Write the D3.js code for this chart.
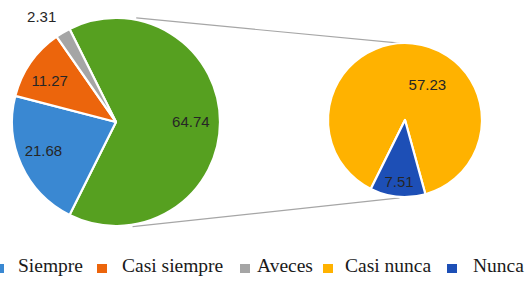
<!DOCTYPE html>
<html>
<head>
<meta charset="utf-8">
<script src="https://cdn.jsdelivr.net/npm/d3@7"></script>
<style>
  html, body { margin: 0; padding: 0; background: #fff; overflow: hidden; }
</style>
</head>
<body>
<svg id="chart" width="528" height="282"></svg>
<script>
const categories = ['Siempre', 'Casi siempre', 'Aveces', 'Casi nunca', 'Nunca'];
const values = [21.68, 11.27, 2.31, 57.23, 7.51];
const colors = ['#3a88d2', '#ec650c', '#a5a5a5', '#ffb200', '#1d4fb6'];
const otherColor = '#56a020';
const splitAt = 3; // the last two go to the second pie

const svg = d3.select('#chart');
const deg = Math.PI / 180;

// main pie
const main = { cx: 116, cy: 122, r: 104 };
const small = { cx: 405, cy: 120, r: 77 };

const otherValue = d3.sum(values.slice(splitAt));
const mainData = [{ name: 'Otros', value: otherValue, color: otherColor }]
    .concat(categories.slice(0, splitAt).map((c, i) => ({ name: c, value: values[i], color: colors[i] })));
const smallData = categories.slice(splitAt).map((c, i) => ({ name: c, value: values[splitAt + i], color: colors[splitAt + i] }));

const total = d3.sum(values);
const mainStart = Math.PI / 2 - Math.PI * otherValue / total; // "other" slice centred on the right
const mainPie = d3.pie().sort(null).value(d => d.value)
    .startAngle(mainStart).endAngle(mainStart + 2 * Math.PI);
const smallStart = -153.6 * deg;
const smallPie = d3.pie().sort(null).value(d => d.value)
    .startAngle(smallStart).endAngle(smallStart + 2 * Math.PI);

const mainArcs = mainPie(mainData);
const smallArcs = smallPie(smallData);

// connector lines
const pt = (p, a, rr) => [p.cx + rr * Math.sin(a), p.cy - rr * Math.cos(a)];
const connectors = [
    [pt(main, 11 * deg, main.r + 2), pt(small, -4 * deg, small.r)],
    [pt(main, 171 * deg, main.r + 2), pt(small, 184 * deg, small.r + 1)]
];
svg.append('g').selectAll('line')
    .data(connectors)
    .enter().append('line')
    .attr('x1', d => d[0][0]).attr('y1', d => d[0][1])
    .attr('x2', d => d[1][0]).attr('y2', d => d[1][1])
    .attr('stroke', '#a6a6a6')
    .attr('stroke-width', 1.2);

function drawPie(p, arcs, labelSpec) {
    const g = svg.append('g').attr('transform', `translate(${p.cx},${p.cy})`);
    const arc = d3.arc().innerRadius(0).outerRadius(p.r);
    g.selectAll('path')
        .data(arcs)
        .enter().append('path')
        .attr('d', arc)
        .attr('fill', d => d.data.color)
        .attr('stroke', '#fff')
        .attr('stroke-width', 2.2)
        .attr('stroke-linejoin', 'round');

    g.selectAll('text')
        .data(arcs)
        .enter().append('text')
        .attr('transform', (d, i) => {
            const s = labelSpec[i];
            const a = (d.startAngle + d.endAngle) / 2 + s.shift * deg;
            const rr = p.r * s.rf;
            return `translate(${rr * Math.sin(a)},${-rr * Math.cos(a)})`;
        })
        .attr('text-anchor', 'middle')
        .attr('dy', '0.36em')
        .attr('font-family', '"Liberation Sans", Arial, sans-serif')
        .attr('font-size', 15)
        .attr('fill', '#262626')
        .text(d => d3.format('.2f')(d.data.value));
}

drawPie(main, mainArcs, [
    { rf: 0.72, shift: 0 },
    { rf: 0.75, shift: 3 },
    { rf: 0.75, shift: -3 },
    { rf: 1.24, shift: -4.5 }
]);
drawPie(small, smallArcs, [
    { rf: 0.54, shift: 27 },
    { rf: 0.8, shift: 0 }
]);

// legend
const legendMarkX = [-6, 97, 240, 323, 447];
const legendTextX = [18, 122, 257, 345, 473];
const legend = svg.append('g');
categories.forEach((c, i) => {
    legend.append('rect')
        .attr('x', legendMarkX[i])
        .attr('y', 264)
        .attr('width', 10)
        .attr('height', 9)
        .attr('fill', colors[i]);
    legend.append('text')
        .attr('x', legendTextX[i])
        .attr('y', 272)
        .attr('font-family', '"Liberation Serif", "Times New Roman", serif')
        .attr('font-size', 19.5)
        .attr('fill', '#1a1a1a')
        .text(c);
});
</script>
</body>
</html>
